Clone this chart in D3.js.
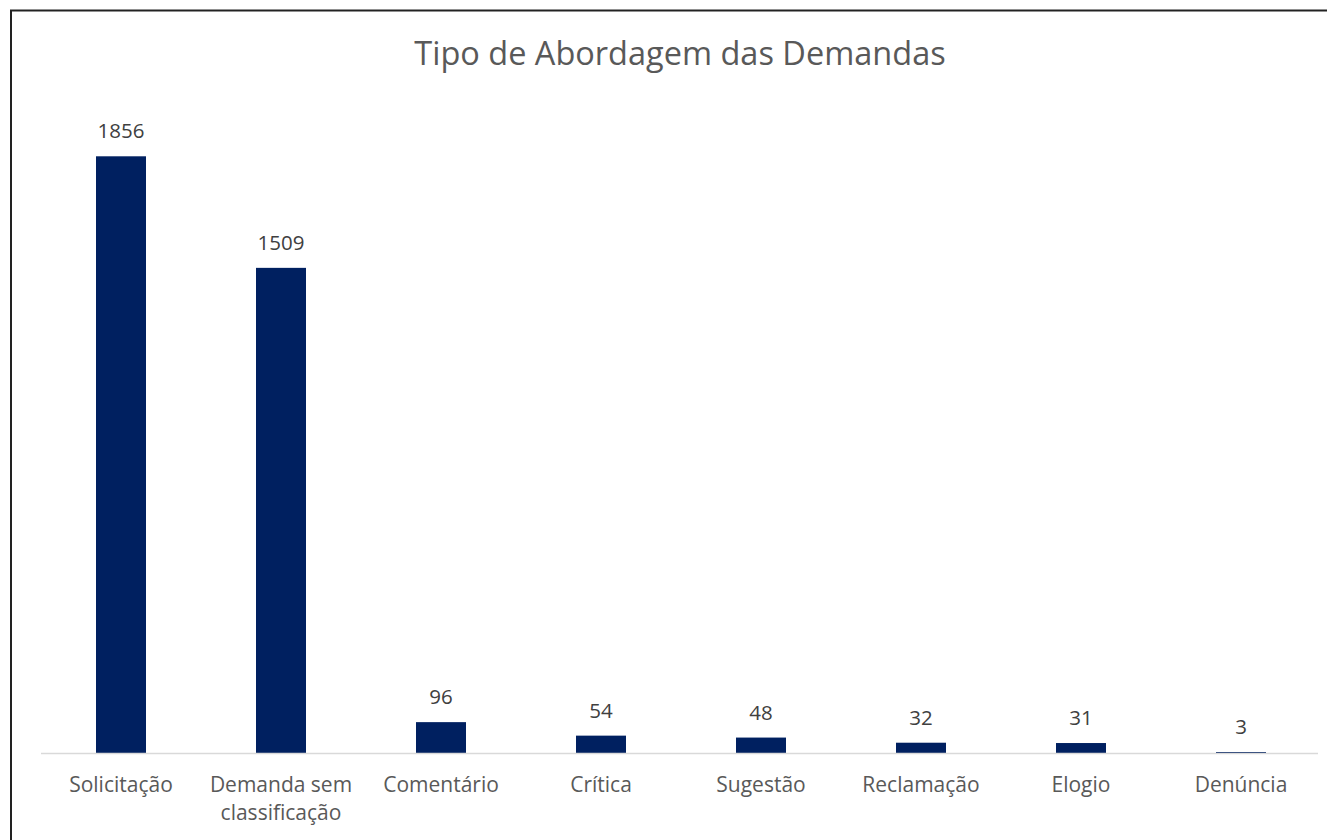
<!DOCTYPE html>
<html>
<head>
<meta charset="utf-8">
<script src="https://cdn.jsdelivr.net/npm/d3@7"></script>
<style>
  body { margin: 0; background: #fff; }
  svg { display: block; }
</style>
</head>
<body>
<script>
const categories = ["Solicitação", "Demanda sem classificação", "Comentário", "Crítica", "Sugestão", "Reclamação", "Elogio", "Denúncia"];
const values = [1856, 1509, 96, 54, 48, 32, 31, 3];
// labels that wrap onto two lines
const labelLines = [["Solicitação"], ["Demanda sem", "classificação"], ["Comentário"], ["Crítica"], ["Sugestão"], ["Reclamação"], ["Elogio"], ["Denúncia"]];

const w = 1327;
const h = 840;
const font = "'Open Sans', sans-serif";

const svg = d3.select("body").append("svg")
    .attr("width", w)
    .attr("height", h);

svg.append("rect")
    .attr("width", "100%")
    .attr("height", "100%")
    .attr("fill", "#fff");

// outer chart border (runs off the right and bottom edges)
svg.append("rect")
    .attr("x", 11)
    .attr("y", 10.5)
    .attr("width", w + 20)
    .attr("height", h + 20)
    .attr("fill", "none")
    .attr("stroke", "#222")
    .attr("stroke-width", 2);

const x = d3.scaleBand()
    .domain(categories)
    .range([41, 1321])
    .paddingInner(0.6875)
    .paddingOuter(0.34375);

const y = d3.scaleLinear()
    .domain([0, 2000])
    .range([753, 110]);

svg.append("text")
    .attr("x", 680)
    .attr("y", 65)
    .attr("text-anchor", "middle")
    .attr("font-family", font)
    .attr("font-size", "32.5px")
    .attr("fill", "#595959")
    .text("Tipo de Abordagem das Demandas");

svg.selectAll("rect.bar")
    .data(values)
    .enter()
    .append("rect")
    .attr("class", "bar")
    .attr("x", (d, i) => x(categories[i]))
    .attr("width", x.bandwidth())
    .attr("y", d => y(d))
    .attr("height", d => y(0) - y(d))
    .attr("fill", "#002060");

// baseline
svg.append("line")
    .attr("x1", 41)
    .attr("x2", 1318)
    .attr("y1", y(0) + 0.5)
    .attr("y2", y(0) + 0.5)
    .attr("stroke", "#d9d9d9")
    .attr("stroke-width", 1.5);

svg.selectAll("text.value")
    .data(values)
    .enter()
    .append("text")
    .attr("class", "value")
    .attr("x", (d, i) => x(categories[i]) + x.bandwidth() / 2)
    .attr("y", d => y(d) - 18)
    .attr("text-anchor", "middle")
    .attr("font-family", font)
    .attr("font-size", "20.5px")
    .attr("fill", "#404040")
    .text(d => d);

const cat = svg.selectAll("text.cat")
    .data(categories)
    .enter()
    .append("text")
    .attr("class", "cat")
    .attr("text-anchor", "middle")
    .attr("font-family", font)
    .attr("font-size", "21px")
    .attr("fill", "#595959");

cat.each(function (d, i) {
    const cx = x(d) + x.bandwidth() / 2;
    d3.select(this).selectAll("tspan")
        .data(labelLines[i])
        .enter()
        .append("tspan")
        .attr("x", cx)
        .attr("y", (t, j) => 792 + j * 28)
        .text(t => t);
});
</script>
</body>
</html>
